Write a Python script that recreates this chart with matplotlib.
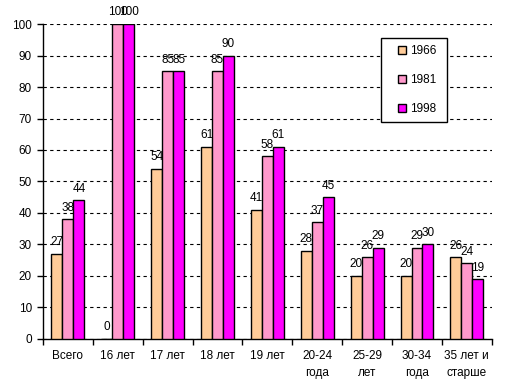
import matplotlib
matplotlib.use("Agg")
import matplotlib.pyplot as plt
from matplotlib.patches import Rectangle
import numpy as np

categories = ["Всего", "16 лет", "17 лет", "18 лет", "19 лет", "20-24\nгода", "25-29\nлет", "30-34\nгода", "35 лет и\nстарше"]
series_names = ["1966", "1981", "1998"]
v1966 = [27, 0, 54, 61, 41, 28, 20, 20, 26]
v1981 = [38, 100, 85, 85, 58, 37, 26, 29, 24]
v1998 = [44, 100, 85, 90, 61, 45, 29, 30, 19]
colors = ["#FFCC99", "#FF99CC", "#FF00FF"]

plt.rcParams['font.family'] = ['Liberation Sans', 'DejaVu Sans']
W, H = 507, 386
fig = plt.figure(figsize=(W / 100, H / 100), dpi=100)
ax = fig.add_axes([0.0848, 0.1218, 0.8852, 0.816])

x = np.arange(len(categories))
w = 0.22
for i, (vals, name, c) in enumerate(zip([v1966, v1981, v1998], series_names, colors)):
    pos = x + (i - 1) * w
    ax.bar(pos, vals, width=w, color=c, edgecolor="black", linewidth=1.0, label=name, zorder=3)
    for p, v in zip(pos, vals):
        ax.annotate(str(v), (p, v), xytext=(0, 4), textcoords="offset points",
                    ha="center", va="bottom", fontsize=8.5, zorder=4)

ax.set_xlim(-0.5, len(categories) - 0.5)
ax.set_ylim(0, 100)
ax.set_yticks(range(0, 101, 10))
ax.yaxis.grid(True, linestyle=(0, (3, 3)), color="black", linewidth=0.8, zorder=0)
ax.set_axisbelow(True)
ax.set_xticks(x)
ax.set_xticklabels(categories, fontsize=8.5, linespacing=1.6)
ax.set_xticks(np.arange(-0.5, len(categories), 1), minor=True)
ax.tick_params(axis="x", which="major", length=0, pad=8)
ax.tick_params(axis="x", which="minor", length=4, width=1, direction="out")
ax.tick_params(axis="y", length=4, width=1, direction="out", labelsize=8.5, pad=4)
for s in ["top", "right"]:
    ax.spines[s].set_visible(False)
for s in ["left", "bottom"]:
    ax.spines[s].set_linewidth(1.0)

# legend box
ax.add_patch(Rectangle((381 / W, 1 - 122 / H), 66 / W, 84 / H, transform=fig.transFigure,
                       facecolor="white", edgecolor="black", linewidth=1.0, zorder=5, clip_on=False))
leg = ax.legend(loc="upper left", bbox_to_anchor=(398 / W, 1 - 45 / H), bbox_transform=fig.transFigure,
                frameon=False, fontsize=8.5, handlelength=0.7, handleheight=0.7,
                labelspacing=1.45, borderpad=0, borderaxespad=0, handletextpad=0.3)
leg.set_zorder(6)

fig.savefig("out.png", dpi=100)
